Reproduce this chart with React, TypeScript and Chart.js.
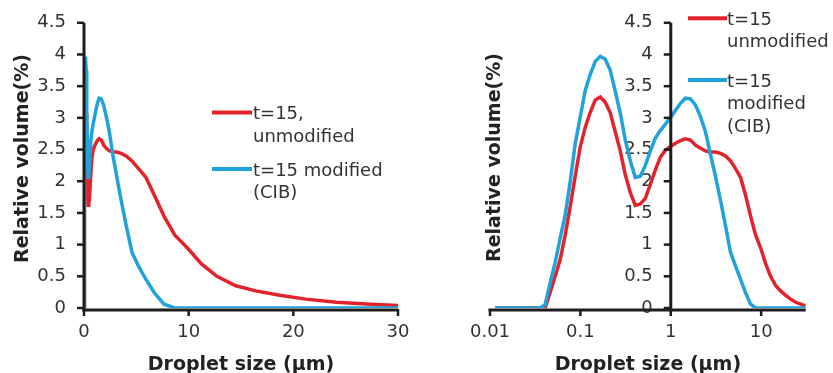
import React, { useEffect, useRef } from 'react';
import { Chart, registerables } from 'chart.js';

Chart.register(...registerables);

// Droplet size classes (µm)
const sizes = [
  0.0114, 0.0129, 0.0147, 0.0167, 0.0189, 0.0215, 0.0244, 0.0278, 0.0315, 0.0358,
  0.0407, 0.0463, 0.0526, 0.0597, 0.0679, 0.0771, 0.0876, 0.0995, 0.113, 0.128,
  0.146, 0.166, 0.188, 0.214, 0.243, 0.276, 0.314, 0.357, 0.405, 0.46,
  0.523, 0.594, 0.675, 0.767, 0.872, 0.991, 1.13, 1.28, 1.45, 1.65,
  1.88, 2.13, 2.42, 2.75, 3.12, 3.55, 4.03, 4.58, 5.21, 5.92,
  6.72, 7.64, 8.68, 9.86, 11.2, 12.7, 14.5, 16.4, 18.7, 21.2,
  24.1, 27.4, 31.1,
];

// t=15 unmodified (red)
const unmodified = [
  0, 0, 0, 0, 0, 0, 0, 0, 0, 0,
  0, 0.25, 0.5, 0.76, 1.15, 1.6, 2.08, 2.54, 2.85, 3.08,
  3.28, 3.33, 3.25, 3.08, 2.78, 2.48, 2.1, 1.82, 1.62, 1.64,
  1.73, 1.95, 2.18, 2.38, 2.49, 2.55, 2.6, 2.64, 2.67, 2.65,
  2.57, 2.52, 2.48, 2.46, 2.46, 2.44, 2.4, 2.32, 2.2, 2.06,
  1.78, 1.45, 1.15, 0.95, 0.7, 0.5, 0.35, 0.27, 0.2, 0.14,
  0.09, 0.06, 0.03,
];

// t=15 modified (CIB) (blue)
const modifiedCIB = [
  0, 0, 0, 0, 0, 0, 0, 0, 0, 0,
  0.05, 0.4, 0.72, 1.1, 1.47, 1.99, 2.59, 3.01, 3.43, 3.68,
  3.89, 3.97, 3.93, 3.75, 3.42, 3.08, 2.65, 2.32, 2.06, 2.08,
  2.25, 2.48, 2.68, 2.8, 2.9, 3.0, 3.12, 3.23, 3.31, 3.3,
  3.2, 3.02, 2.78, 2.42, 2.08, 1.7, 1.3, 0.88, 0.66, 0.45,
  0.24, 0.06, 0, 0, 0, 0, 0, 0, 0, 0,
  0, 0, 0,
];

const yTickValues = [0, 0.5, 1, 1.5, 2, 2.5, 3, 3.5, 4, 4.5];
const linearXTicks = [0, 10, 20, 30];
const logXTicks = [0.01, 0.1, 1, 10];

const legendLeft = [['t=15,', 'unmodified'], ['t=15 modified', '(CIB)']];
const legendRight = [['t=15', 'unmodified'], ['t=15', 'modified', '(CIB)']];
const xTitleText = 'Droplet size (\u03bcm)';
const yTitleText = 'Relative volume(%)';

const RED = '#E3232B';
const BLUE = '#20A2DA';
const AXIS = '#1e1c1c';
const TEXT = '#333333';
const FONT = 'DejaVu Sans';

// right panel: y axis crosses at x = 1; its labels end ~18px left of that
const RIGHT_Y_CROSS = 1;
const RIGHT_LABEL_ANCHOR = 0.632;

type Decor = {
  yTitleX: number;
  yTitleY: number;
  sampleX1: number;
  sampleX2: number;
  textX: number;
  sampleYs: number[];
  legend: string[][];
  xTicks: number[];
  yAxisAt: number | null;
  logX: boolean;
};

function makeDecor(d: Decor) {
  return {
    id: 'decor',
    afterDraw(chart: any) {
      const ctx = chart.ctx as CanvasRenderingContext2D;
      const xs = chart.scales.x;
      const ys = chart.scales.y;
      const L = xs.left;
      const R = xs.right;
      const T = ys.getPixelForValue(yTickValues[yTickValues.length - 1]);
      const B = ys.getPixelForValue(yTickValues[0]);
      let axisX = L;
      if (d.yAxisAt !== null) {
        const frac = d.logX
          ? (Math.log10(d.yAxisAt) - Math.log10(xs.min)) / (Math.log10(xs.max) - Math.log10(xs.min))
          : (d.yAxisAt - xs.min) / (xs.max - xs.min);
        axisX = L + frac * (R - L);
      }

      ctx.save();
      // x title
      ctx.fillStyle = '#222';
      ctx.font = `bold 19px "${FONT}"`;
      ctx.textAlign = 'center';
      ctx.textBaseline = 'alphabetic';
      ctx.fillText(xTitleText, (L + R) / 2, 370);
      // y title
      ctx.save();
      ctx.translate(d.yTitleX, d.yTitleY);
      ctx.rotate(-Math.PI / 2);
      ctx.fillText(yTitleText, 0, 0);
      ctx.restore();
      // legend
      const colors = [RED, BLUE];
      ctx.font = `18px "${FONT}"`;
      ctx.textAlign = 'left';
      d.legend.forEach((lines, i) => {
        const sy = d.sampleYs[i];
        ctx.fillStyle = colors[i];
        ctx.fillRect(d.sampleX1, sy - 2, d.sampleX2 - d.sampleX1, 4);
        ctx.fillStyle = TEXT;
        lines.forEach((t, j) => {
          ctx.fillText(t, d.textX, sy + 6.5 + j * 22.5);
        });
      });

      // axes and tick marks
      ctx.fillStyle = AXIS;
      ctx.fillRect(L - 1.5, B + 0.5, R - L + 1.5, 3);
      ctx.fillRect(axisX - 1.5, T, 3, B - T + 3.5);
      d.xTicks.forEach((v) => {
        const px = xs.getPixelForValue(v);
        ctx.fillRect(px - 1.25, B + 1, 2.5, 7);
      });
      yTickValues.forEach((v) => {
        const py = ys.getPixelForValue(v);
        ctx.fillRect(axisX - 7, py - 1.25, 7, 2.5);
      });
      ctx.restore();
    },
  };
}

function datasets() {
  return [
    {
      label: 't=15 modified (CIB)',
      data: sizes.map((x, i) => ({ x, y: modifiedCIB[i] })),
      borderColor: BLUE,
      backgroundColor: BLUE,
      borderWidth: 3.5,
      pointRadius: 0,
      tension: 0,
      fill: false,
    },
    {
      label: 't=15 unmodified',
      data: sizes.map((x, i) => ({ x, y: unmodified[i] })),
      borderColor: RED,
      backgroundColor: RED,
      borderWidth: 3.5,
      pointRadius: 0,
      tension: 0,
      fill: false,
    },
  ];
}

const gridOpts = {
  display: false,
  drawOnChartArea: false,
  drawTicks: true,
  tickLength: 6,
};
const borderOpts = { display: false };

function yScale(extra: any) {
  return {
    type: 'linear',
    min: 0,
    max: 4.5,
    afterBuildTicks: (s: any) => {
      s.ticks = yTickValues.map((v) => ({ value: v }));
    },
    ticks: {
      font: { family: FONT, size: 18 },
      color: TEXT,
      padding: 12,
      callback: (v: any) => String(v),
    },
    grid: gridOpts,
    border: borderOpts,
    ...extra,
  };
}

function LeftChart() {
  const ref = useRef<HTMLCanvasElement>(null);
  useEffect(() => {
    const chart = new Chart(ref.current as HTMLCanvasElement, {
      type: 'line',
      data: { datasets: datasets() as any },
      options: {
        animation: false,
        responsive: false,
        layout: { padding: { top: 22, right: 22, left: 0, bottom: 0 } },
        plugins: { legend: { display: false }, tooltip: { enabled: false }, title: { display: false } },
        scales: {
          x: {
            type: 'linear',
            min: 0,
            max: 30,
            afterBuildTicks: (s: any) => {
              s.ticks = linearXTicks.map((v) => ({ value: v }));
            },
            afterFit: (s: any) => {
              s.height = 65;
            },
            ticks: {
              font: { family: FONT, size: 18 },
              color: TEXT,
              padding: 8,
              maxRotation: 0,
              callback: (v: any) => String(v),
            },
            grid: gridOpts,
            border: borderOpts,
          },
          y: yScale({
            position: 'left',
            afterFit: (s: any) => {
              s.width = 84;
            },
          }),
        } as any,
      },
      plugins: [
        makeDecor({
          yTitleX: 27.5,
          yTitleY: 158.5,
          sampleX1: 212,
          sampleX2: 252,
          textX: 253,
          sampleYs: [112.5, 169],
          legend: legendLeft,
          xTicks: linearXTicks,
          yAxisAt: null,
          logX: false,
        }),
      ],
    } as any);
    return () => chart.destroy();
  }, []);
  return <canvas ref={ref} width={420} height={373} style={{ width: 420, height: 373, display: 'block' }} />;
}

function RightChart() {
  const ref = useRef<HTMLCanvasElement>(null);
  useEffect(() => {
    const chart = new Chart(ref.current as HTMLCanvasElement, {
      type: 'line',
      data: { datasets: datasets() as any },
      options: {
        animation: false,
        responsive: false,
        layout: { padding: { top: 22, right: 27.3, left: 70, bottom: 0 } },
        plugins: { legend: { display: false }, tooltip: { enabled: false }, title: { display: false } },
        scales: {
          x: {
            type: 'logarithmic',
            min: 0.01,
            max: 31.1,
            afterBuildTicks: (s: any) => {
              s.ticks = logXTicks.map((v) => ({ value: v }));
            },
            afterFit: (s: any) => {
              s.height = 65;
            },
            ticks: {
              font: { family: FONT, size: 18 },
              color: TEXT,
              padding: 8,
              maxRotation: 0,
              autoSkip: false,
              callback: (v: any) => String(v),
            },
            grid: gridOpts,
            border: borderOpts,
          },
          y: yScale({ axis: 'y', position: { x: RIGHT_LABEL_ANCHOR } }),
        } as any,
      },
      plugins: [
        makeDecor({
          yTitleX: 79.5,
          yTitleY: 157.5,
          sampleX1: 268,
          sampleX2: 307,
          textX: 307,
          sampleYs: [18.3, 80],
          legend: legendRight,
          xTicks: logXTicks,
          yAxisAt: RIGHT_Y_CROSS,
          logX: true,
        }),
      ],
    } as any);
    return () => chart.destroy();
  }, []);
  return <canvas ref={ref} width={413} height={373} style={{ width: 413, height: 373, display: 'block' }} />;
}

export default function App() {
  return (
    <div style={{ position: 'absolute', left: 0, top: 0, width: 833, height: 373, background: '#fff', display: 'flex' }}>
      <LeftChart />
      <RightChart />
    </div>
  );
}
